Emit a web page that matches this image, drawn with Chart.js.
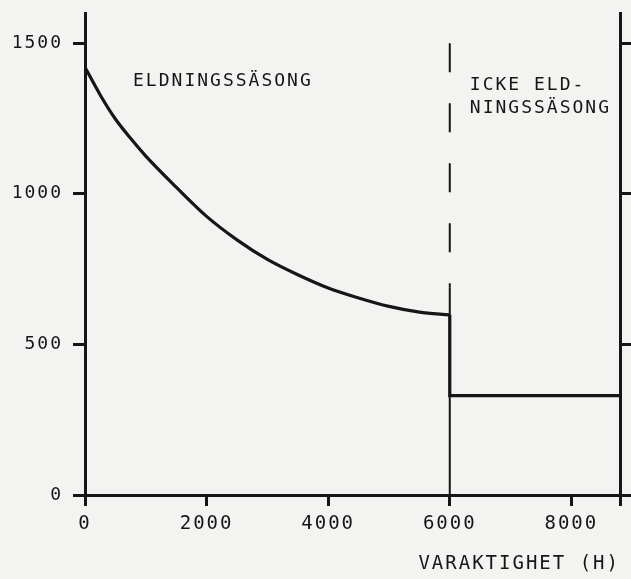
<!DOCTYPE html>
<html>
<head>
<meta charset="utf-8">
<script src="https://cdn.jsdelivr.net/npm/chart.js@4.4.1/dist/chart.umd.min.js"></script>
<style>
  html, body { margin: 0; padding: 0; background: #f3f3f1; }
  #wrap { width: 631px; height: 579px; }
</style>
</head>
<body>
<div id="wrap"><canvas id="chart" width="631" height="579"></canvas></div>
<script>
// --- heating season: load duration curve (hours sorted by load) ---
const hours = [0, 250, 500, 750, 1000, 1500, 2000, 2500, 3000, 3500, 4000, 4500, 5000, 5500, 6000];
const load  = [1420, 1328, 1248, 1184, 1125, 1022, 925, 847, 782, 731, 687, 654, 626, 607, 598];

// --- non heating season: drop at 6000 h, then flat ---
const summerHours = [6000, 6000, 8800];
const summerLoad  = [598, 330, 330];

// season boundary (dashed above, solid below)
const boundaryHour = 6000;
const boundaryTop = 1500;
const boundarySplit = 690;

const xTicks = [0, 2000, 4000, 6000, 8000, 8800];
const yTicks = [0, 500, 1000, 1500];
const xMax = 8800;
const yMax = 1600;

// text placed in data units
const seasonLabels = [
    { text: 'ELDNINGSSÄSONG', x: 790,  y: 1374 },
    { text: 'ICKE ELD-',      x: 6330, y: 1361 },
    { text: 'NINGSSÄSONG',    x: 6330, y: 1284 }
];

const INK = '#161616';
const FONT = "'DejaVu Sans Mono', monospace";
const SPACING = '2px';

const toPoints = (xs, ys) => xs.map((x, i) => ({ x: x, y: ys[i] }));

// paper background + spaced plotter lettering + season labels
const paper = {
    id: 'paper',
    beforeDraw(chart) {
        const ctx = chart.ctx;
        ctx.save();
        ctx.fillStyle = '#f3f3f1';
        ctx.fillRect(0, 0, chart.width, chart.height);
        ctx.restore();
        ctx.letterSpacing = SPACING;
    },
    afterDatasetsDraw(chart) {
        const ctx = chart.ctx;
        const sx = chart.scales.x, sy = chart.scales.y;
        ctx.save();
        ctx.fillStyle = INK;
        ctx.font = '18px ' + FONT;
        ctx.textAlign = 'left';
        ctx.textBaseline = 'middle';
        ctx.letterSpacing = SPACING;
        for (const l of seasonLabels) {
            ctx.fillText(l.text, sx.getPixelForValue(l.x), sy.getPixelForValue(l.y));
        }
        ctx.restore();
    }
};

const axisGrid = len => ({
    drawOnChartArea: false, drawTicks: true, tickLength: len,
    color: INK, lineWidth: 3
});
const axisBorder = { display: true, color: INK, width: 3 };

// fixed axis boxes, no label overhang padding
const fixSize = (w, h) => s => {
    if (w !== null) s.width = w;
    if (h !== null) s.height = h;
    s.paddingTop = 0; s.paddingBottom = 0;
    s.paddingLeft = 0; s.paddingRight = 0;
};

new Chart(document.getElementById('chart'), {
    type: 'line',
    data: {
        datasets: [
            {
                data: toPoints(hours, load),
                borderColor: INK, borderWidth: 3.2, pointRadius: 0,
                cubicInterpolationMode: 'monotone', fill: false
            },
            {
                data: toPoints(summerHours, summerLoad),
                borderColor: INK, borderWidth: 3.2, pointRadius: 0, tension: 0
            },
            {
                data: toPoints([boundaryHour, boundaryHour], [boundaryTop, boundarySplit]),
                borderColor: INK, borderWidth: 2, pointRadius: 0, borderDash: [29, 31]
            },
            {
                data: toPoints([boundaryHour, boundaryHour], [boundarySplit, 0]),
                borderColor: INK, borderWidth: 2, pointRadius: 0
            }
        ]
    },
    options: {
        responsive: false,
        animation: false,
        layout: { padding: { top: 13, left: 0, right: 0, bottom: 0 } },
        plugins: { legend: { display: false }, tooltip: { enabled: false } },
        scales: {
            x: {
                type: 'linear', min: 0, max: xMax,
                afterBuildTicks: s => { s.ticks = xTicks.map(v => ({ value: v })); },
                afterFit: fixSize(null, 84),
                grid: axisGrid(11),
                border: axisBorder,
                ticks: {
                    font: { family: FONT, size: 19 }, color: INK, padding: 7,
                    maxRotation: 0, autoSkip: false,
                    callback: v => (v === xMax ? '' : String(v))
                },
                title: {
                    display: true, text: 'VARAKTIGHET (H)', align: 'end', color: INK,
                    font: { family: FONT, size: 19 }, padding: { top: 0, bottom: 4 }
                }
            },
            y: {
                position: 'left', min: 0, max: yMax,
                afterBuildTicks: s => { s.ticks = yTicks.map(v => ({ value: v })); },
                afterFit: fixSize(85, null),
                grid: axisGrid(12),
                border: axisBorder,
                ticks: {
                    font: { family: FONT, size: 18 }, color: INK, padding: 10,
                    callback: v => String(v)
                }
            },
            y2: {
                position: 'right', min: 0, max: yMax,
                afterBuildTicks: s => { s.ticks = yTicks.map(v => ({ value: v })); },
                afterFit: fixSize(11, null),
                grid: axisGrid(11),
                border: axisBorder,
                ticks: { display: false }
            }
        }
    },
    plugins: [paper]
});
</script>
</body>
</html>
